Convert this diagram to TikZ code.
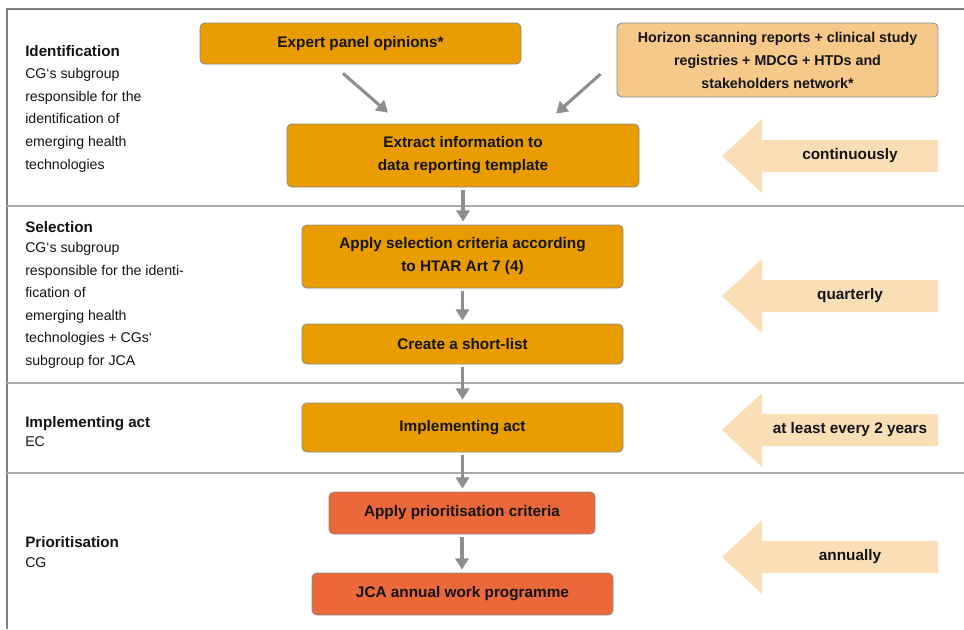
\documentclass[tikz,border=0pt]{standalone}
\usepackage{fontspec}
\setmainfont{Liberation Sans}
\usetikzlibrary{arrows.meta,calc}
\definecolor{gold}{RGB}{233,156,0}
\definecolor{lightgold}{RGB}{246,201,138}
\definecolor{peach}{RGB}{249,222,182}
\definecolor{redo}{RGB}{234,104,58}
\definecolor{conngray}{RGB}{142,142,142}
\definecolor{sepgray}{RGB}{170,170,170}
\definecolor{framegray}{RGB}{130,130,130}
\definecolor{boxline}{RGB}{140,140,140}
\definecolor{txt}{RGB}{20,20,20}
\begin{document}
\begin{tikzpicture}[x=0.75pt,y=-0.75pt,
  box/.style={draw=boxline, line width=0.6pt, rounded corners=3.5pt, align=center,
    inner sep=0pt, text=txt, font=\fontsize{11.5}{17.25}\selectfont\bfseries},
  goldbox/.style={box, fill=gold},
  lightbox/.style={box, fill=lightgold, font=\fontsize{10.7}{17.25}\selectfont\bfseries},
  redbox/.style={box, fill=redo},
  conn/.style={draw=conngray, line width=2.3pt, -{Triangle[length=8.5pt,width=10pt]}},
  vconn/.style={conn, shorten <=2.25pt, shorten >=2.25pt},
  sepline/.style={draw=sepgray, line width=1.5pt},
  frameline/.style={draw=framegray, line width=1.5pt},
  blockarrow/.style={fill=peach, draw=none},
  freqtext/.style={text=txt, font=\fontsize{11.5}{14}\selectfont\bfseries, inner sep=0pt},
  head/.style={anchor=base west, inner sep=0pt, text=txt, font=\fontsize{11.4}{13}\selectfont\bfseries},
  body/.style={anchor=base west, inner sep=0pt, align=left, text=txt, font=\fontsize{10.6}{16.9}\selectfont}
]
\useasboundingbox (0,0) rectangle (964,629);
\fill[white] (0,0) rectangle (964,629);

% frame and separators
\draw[frameline] (7,629) -- (7,9) -- (964,9);
\draw[sepline] (7,206) -- (964,206);
\draw[sepline] (7,383) -- (964,383);
\draw[sepline] (7,473) -- (964,473);

% left texts (base anchor = baseline of the last line)
\node[head] (h1) at (25,56) {Identification};
\node[body] (b1) at (25,169) {CG‘s subgroup\\responsible for the\\identification of\\emerging health\\technologies};
\node[head] (h2) at (25,232) {Selection};
\node[body] (b2) at (25,365.5) {CG‘s subgroup\\responsible for the identi-\\fication of\\emerging health\\technologies + CGs‘\\subgroup for JCA};
\node[head] (h3) at (25,427) {Implementing act};
\node[body] (b3) at (25,446) {EC};
\node[head] (h4) at (25,547) {Prioritisation};
\node[body] (b4) at (25,567) {CG};

% boxes
\node[goldbox, minimum width=240.75pt, minimum height=30.75pt] (expert) at (360.5,43.5) {Expert panel opinions*};
\node[lightbox, minimum width=240.75pt, minimum height=55.5pt] (horizon) at (777.5,60) {Horizon scanning reports + clinical study\\registries + MDCG + HTDs and\\stakeholders network*};
\node[goldbox, minimum width=264pt, minimum height=47.25pt] (extract) at (463,155.5) {Extract information to\\data reporting template};
\node[goldbox, minimum width=240.75pt, minimum height=47.25pt] (select) at (462.5,256.5) {Apply selection criteria according\\to HTAR Art 7 (4)};
\node[goldbox, minimum width=240.75pt, minimum height=30pt] (short) at (462.5,344) {Create a short-list};
\node[goldbox, minimum width=240.75pt, minimum height=36.75pt] (impl) at (462.5,427.5) {Implementing act};
\node[redbox, minimum width=199.5pt, minimum height=31.5pt] (prio) at (462,513) {Apply prioritisation criteria};
\node[redbox, minimum width=225.75pt, minimum height=31.5pt] (jca) at (462.5,594) {JCA annual work programme};

% connectors
\draw[conn] ([shift={(-17.5,9)}]expert.south) -- ([shift={(-75,-11)}]extract.north);
\draw[conn] ([shift={(-16,14)}]horizon.west) -- ([shift={(93,-10)}]extract.north);
\draw[vconn] (extract.south) -- (extract.south |- select.north);
\draw[vconn] (select.south) -- (short.north);
\draw[vconn] (short.south) -- (impl.north);
\draw[vconn] (impl.south) -- (impl.south |- prio.north);
\draw[vconn] (prio.south) -- (prio.south |- jca.north);

% frequency block arrows
\foreach \c/\nm/\t in {156/f1/continuously, 296/f2/quarterly, 430/f3/at least every 2 years, 557/f4/annually}{
  \fill[blockarrow] (722,\c) -- (762,\c-37) -- (762,\c-16) -- (938,\c-16) -- (938,\c+16) -- (762,\c+16) -- (762,\c+37) -- cycle;
  \node[freqtext] (\nm) at (850,\c) {\t};
}
\end{tikzpicture}
\end{document}
